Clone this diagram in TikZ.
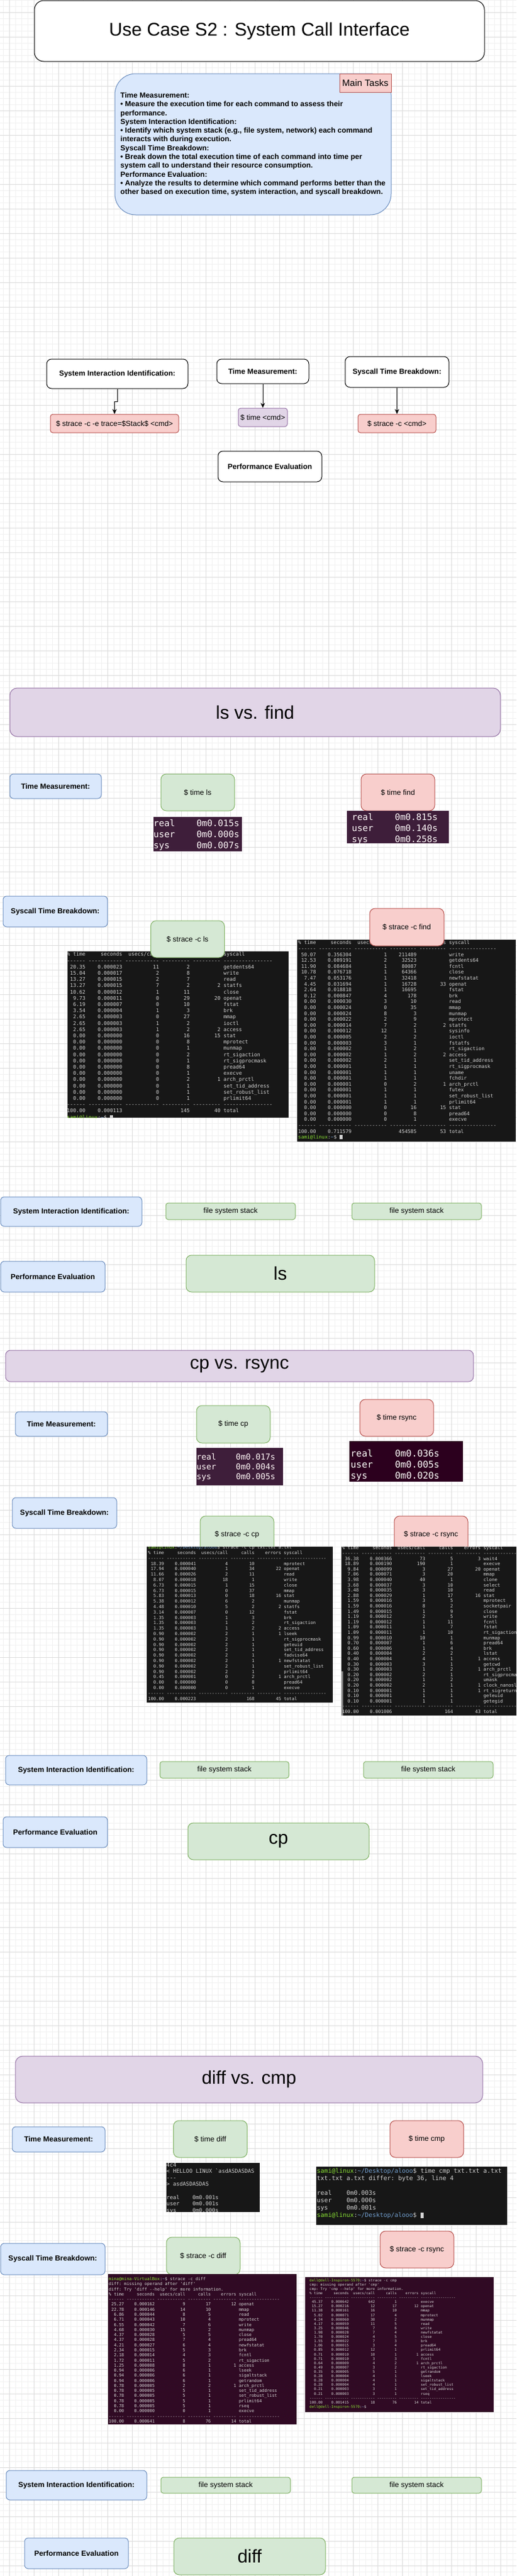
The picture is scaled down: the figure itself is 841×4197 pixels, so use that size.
\documentclass[tikz,border=0pt]{standalone}
\usepackage{fontspec}
\setmainfont{Liberation Sans}
\setmonofont{DejaVu Sans Mono}
\usetikzlibrary{arrows.meta}

\definecolor{dioblue}{HTML}{DAE8FC}
\definecolor{diobluel}{HTML}{6C8EBF}
\definecolor{diogreen}{HTML}{D5E8D4}
\definecolor{diogreenl}{HTML}{82B366}
\definecolor{diored}{HTML}{F8CECC}
\definecolor{dioredl}{HTML}{B85450}
\definecolor{diopurple}{HTML}{E1D5E7}
\definecolor{diopurplel}{HTML}{9673A6}
\definecolor{termblack}{HTML}{171717}
\definecolor{termplum}{HTML}{3E1E3A}
\definecolor{termdeep}{HTML}{2C001E}
\definecolor{termaub}{HTML}{300A24}
\definecolor{termfg}{HTML}{D3D3D3}
\definecolor{promptgreen}{HTML}{8AE234}
\definecolor{promptblue}{HTML}{729FCF}
\definecolor{gridmajor}{HTML}{DCDCDC}
\definecolor{gridminor}{HTML}{F1F1F1}

% one row of strace -c output
\newcommand\sr[6]{\makebox[3.612em][r]{#1}\makebox[7.224em][r]{#2}\makebox[7.224em][r]{#3}\makebox[6.02em][r]{#4}\makebox[6.02em][r]{#5}\hspace{0.602em}#6}
\newcommand\dashrow{\sr{------}{-----------}{-----------}{---------}{---------}{----------------}}
\newcommand\srhead{\sr{\% time}{seconds}{usecs/call}{calls}{errors}{syscall}}
% one row of time output
\newcommand\tr[2]{\makebox[4.816em][l]{#1}#2}
\newcommand\termfont[2]{\ttfamily\fontsize{#1}{#2}\selectfont}
\newcommand\prompt[2]{\textcolor{promptgreen}{#1}:\textcolor{promptblue}{#2}\$}
\newcommand\cursor{\rule[-0.1em]{0.55em}{0.9em}}

\begin{document}
\begin{tikzpicture}[x=1pt,y=-1pt,
    dio/.style={draw, line width=1pt, rounded corners=#1, inner sep=1pt, align=center,
        font=\fontsize{12}{14.4}\selectfont},
    dio/.default=6,
    wh/.style 2 args={minimum width=#1, minimum height=#2},
    plainbox/.style={dio=8, fill=white, font=\bfseries\fontsize{12}{14.4}\selectfont},
    labelbox/.style={dio=6, fill=dioblue, draw=diobluel, font=\bfseries\fontsize{12}{14.4}\selectfont},
    greenbox/.style={dio=#1, fill=diogreen, draw=diogreenl},
    greenbox/.default=9,
    redbox/.style={dio=#1, fill=diored, draw=dioredl},
    redbox/.default=9,
    purplebox/.style={dio=#1, fill=diopurple, draw=diopurplel},
    purplebox/.default=4,
    bigtext/.style={font=\fontsize{30}{36}\selectfont},
    termtext/.style={anchor=north west, inner sep=0, align=left, text=termfg},
    arr/.style={line width=1pt, -{Stealth[length=8pt,width=7pt]}},
    ]
    \useasboundingbox (0,0) rectangle (841,4197);
    \fill[white] (0,0) rectangle (841,4197);
    % page grid
    \foreach \gx in {5,15,...,835} \draw[gridminor, line width=1pt] (\gx,0) -- (\gx,4197);
    \foreach \gy in {0,10,...,4190} \draw[gridminor, line width=1pt] (0,\gy) -- (841,\gy);
    \foreach \gx in {15,55,...,815} \draw[gridmajor, line width=1pt] (\gx,0) -- (\gx,4197);
    \foreach \gy in {20,60,...,4180} \draw[gridmajor, line width=1pt] (0,\gy) -- (841,\gy);

    % overview
    \node[dio=15, fill=white, bigtext, wh={733}{99}] (title) at (422.5,50.5) {Use Case S2 : System Call Interface};
    \node[dio=34, fill=dioblue, draw=diobluel, wh={450}{230}, align=left,
        font=\bfseries\fontsize{12}{14.3}\selectfont] (tasks) at (412,235)
        {Time Measurement:\\
         • Measure the execution time for each command to assess their\\
         performance.\\
         System Interaction Identification:\\
         • Identify which system stack (e.g., file system, network) each command\\
         interacts with during execution.\\
         Syscall Time Breakdown:\\
         • Break down the total execution time of each command into time per\\
         system call to understand their resource consumption.\\
         Performance Evaluation:\\
         • Analyze the results to determine which command performs better than the\\
         other based on execution time, system interaction, and syscall breakdown.};
    \node[dio, sharp corners, fill=diored, draw=dioredl, wh={84}{30}, anchor=north east,
        font=\fontsize{15}{18}\selectfont] (tasktag) at (tasks.north east) {Main Tasks};

    \node[plainbox, wh={230}{48}] (siiTop) at (191,609) {System Interaction Identification:};
    \node[plainbox, wh={150}{40}] (tmTop) at (428,605) {Time Measurement:};
    \node[plainbox, wh={169}{50}] (stbTop) at (646.5,606) {Syscall Time Breakdown:};
    \node[redbox=4, wh={209}{30}] (cmdStack) at (186.5,690) {\$ strace -c -e trace=\$Stack\$ <cmd>};
    \node[purplebox=4, wh={80}{30}] (cmdTime) at (428,680) {\$ time <cmd>};
    \node[redbox=4, wh={127}{30}] (cmdStrace) at (646.5,690) {\$ strace -c <cmd>};
    \node[plainbox, wh={169}{50}] (peTop) at (439.5,760) {Performance Evaluation};
    \draw[arr] (siiTop.south) -- ++(0,21) -| (cmdStack.north);
    \draw[arr] (tmTop) -- (cmdTime);
    \draw[arr] (stbTop) -- (cmdStrace);

    % ls vs. find
    \node[purplebox=12, bigtext, wh={799}{79}] (lsHead) at (415.5,1160.5) {ls vs. find};
    \node[labelbox, wh={149}{40}] (lsTm) at (90.5,1281) {Time Measurement:};
    \node[greenbox, wh={120}{60}] (lsTime) at (322,1291) {\$ time ls};
    \begin{scope}
        \clip (250,1331) rectangle (394,1387);
        \fill[termplum] (250,1331) rectangle (394,1387);
        \node[termtext, text=white!92!pink, font=\termfont{14.5}{18}] (lsTimeOut) at (250,1333.2)
            {\strut\tr{real}{0m0.015s}\\\tr{user}{0m0.000s}\\\tr{sys}{0m0.007s}};
    \end{scope}
    \node[redbox, wh={120}{60}] (findTime) at (648,1291) {\$ time find};
    \begin{scope}
        \clip (565,1321) rectangle (731,1374);
        \fill[termplum] (565,1321) rectangle (731,1374);
        \node[termtext, text=white!92!pink, font=\termfont{14.5}{18}] (findTimeOut) at (573,1323.2)
            {\strut\tr{real}{0m0.815s}\\\tr{user}{0m0.140s}\\\tr{sys}{0m0.258s}};
    \end{scope}
    \node[labelbox, wh={170}{50}] (lsStb) at (90,1485) {Syscall Time Breakdown:};
    \begin{scope}
        \clip (110,1550) rectangle (470,1821);
        \fill[termblack] (110,1550) rectangle (470,1821);
        \node[termtext, font=\termfont{8.3}{10.2}] (lsStraceOut) at (109,1550.6)
            {\strut\srhead\\ \dashrow\\
             \sr{20.35}{0.000023}{11}{2}{}{getdents64}\\
             \sr{15.04}{0.000017}{2}{8}{}{write}\\
             \sr{13.27}{0.000015}{2}{7}{}{read}\\
             \sr{13.27}{0.000015}{7}{2}{2}{statfs}\\
             \sr{10.62}{0.000012}{1}{11}{}{close}\\
             \sr{9.73}{0.000011}{0}{29}{20}{openat}\\
             \sr{6.19}{0.000007}{0}{10}{}{fstat}\\
             \sr{3.54}{0.000004}{1}{3}{}{brk}\\
             \sr{2.65}{0.000003}{0}{27}{}{mmap}\\
             \sr{2.65}{0.000003}{1}{2}{}{ioctl}\\
             \sr{2.65}{0.000003}{1}{2}{2}{access}\\
             \sr{0.00}{0.000000}{0}{16}{15}{stat}\\
             \sr{0.00}{0.000000}{0}{8}{}{mprotect}\\
             \sr{0.00}{0.000000}{0}{1}{}{munmap}\\
             \sr{0.00}{0.000000}{0}{2}{}{rt\_sigaction}\\
             \sr{0.00}{0.000000}{0}{1}{}{rt\_sigprocmask}\\
             \sr{0.00}{0.000000}{0}{8}{}{pread64}\\
             \sr{0.00}{0.000000}{0}{1}{}{execve}\\
             \sr{0.00}{0.000000}{0}{2}{1}{arch\_prctl}\\
             \sr{0.00}{0.000000}{0}{1}{}{set\_tid\_address}\\
             \sr{0.00}{0.000000}{0}{1}{}{set\_robust\_list}\\
             \sr{0.00}{0.000000}{0}{1}{}{prlimit64}\\
             \dashrow\\
             \sr{100.00}{0.000113}{}{145}{40}{total}\\
             \prompt{sami@linux}{\textasciitilde} \cursor};
    \end{scope}
    \node[greenbox, wh={120}{60}] (lsStrace) at (305.5,1530) {\$ strace -c ls};
    \begin{scope}
        \clip (484,1531) rectangle (840,1860);
        \fill[termblack] (484,1531) rectangle (840,1860);
        \node[termtext, font=\termfont{8}{9.6}] (findStraceOut) at (485.5,1531.9)
            {\strut\srhead\\ \dashrow\\
             \sr{50.07}{0.356304}{1}{211489}{}{write}\\
             \sr{12.53}{0.089191}{2}{32523}{}{getdents64}\\
             \sr{11.90}{0.084684}{1}{80087}{}{fcntl}\\
             \sr{10.78}{0.076718}{1}{64366}{}{close}\\
             \sr{7.47}{0.053176}{1}{32418}{}{newfstatat}\\
             \sr{4.45}{0.031694}{1}{16728}{33}{openat}\\
             \sr{2.64}{0.018818}{1}{16695}{}{fstat}\\
             \sr{0.12}{0.000847}{4}{178}{}{brk}\\
             \sr{0.00}{0.000030}{3}{10}{}{read}\\
             \sr{0.00}{0.000024}{0}{35}{}{mmap}\\
             \sr{0.00}{0.000024}{8}{3}{}{munmap}\\
             \sr{0.00}{0.000022}{2}{9}{}{mprotect}\\
             \sr{0.00}{0.000014}{7}{2}{2}{statfs}\\
             \sr{0.00}{0.000012}{12}{1}{}{sysinfo}\\
             \sr{0.00}{0.000005}{2}{2}{}{ioctl}\\
             \sr{0.00}{0.000003}{3}{1}{}{fstatfs}\\
             \sr{0.00}{0.000002}{1}{2}{}{rt\_sigaction}\\
             \sr{0.00}{0.000002}{1}{2}{2}{access}\\
             \sr{0.00}{0.000002}{2}{1}{}{set\_tid\_address}\\
             \sr{0.00}{0.000001}{1}{1}{}{rt\_sigprocmask}\\
             \sr{0.00}{0.000001}{1}{1}{}{uname}\\
             \sr{0.00}{0.000001}{1}{1}{}{fchdir}\\
             \sr{0.00}{0.000001}{0}{2}{1}{arch\_prctl}\\
             \sr{0.00}{0.000001}{1}{1}{}{futex}\\
             \sr{0.00}{0.000001}{1}{1}{}{set\_robust\_list}\\
             \sr{0.00}{0.000001}{1}{1}{}{prlimit64}\\
             \sr{0.00}{0.000000}{0}{16}{15}{stat}\\
             \sr{0.00}{0.000000}{0}{8}{}{pread64}\\
             \sr{0.00}{0.000000}{0}{1}{}{execve}\\
             \dashrow\\
             \sr{100.00}{0.711579}{}{454585}{53}{total}\\
             \prompt{sami@linux}{\textasciitilde} \cursor};
    \end{scope}
    \node[redbox, wh={121}{61}] (findStrace) at (662.5,1510.5) {\$ strace -c find};
    \node[labelbox, wh={230}{48}] (lsSii) at (116,1974) {System Interaction Identification:};
    \node[greenbox=4, wh={211}{27}] (lsStack) at (375.5,1973.5) {file system stack};
    \node[greenbox=4, wh={211}{27}] (findStack) at (678.5,1973.5) {file system stack};
    \node[labelbox, wh={170}{50}] (lsPe) at (86,2080) {Performance Evaluation};
    \node[greenbox, bigtext, wh={307}{60}] (lsBest) at (456.5,2075) {ls};

    % cp vs. rsync
    \node[purplebox=8, bigtext, wh={762}{51}] (cpHead) at (390,2225.5) {cp vs. rsync};
    \node[labelbox, wh={150}{40}] (cpTm) at (100,2320) {Time Measurement:};
    \node[greenbox, wh={120}{61}] (cpTime) at (380,2320.5) {\$ time cp};
    \begin{scope}
        \clip (320,2359) rectangle (461,2420);
        \fill[termplum] (320,2359) rectangle (461,2420);
        \node[termtext, text=white!88!pink, font=\termfont{13.3}{16.2}] (cpTimeOut) at (320,2367)
            {\strut\tr{real}{0m0.017s}\\\tr{user}{0m0.004s}\\\tr{sys}{0m0.005s}};
    \end{scope}
    \node[redbox, wh={120}{60}] (rsyncTime) at (646,2310) {\$ time rsync};
    \begin{scope}
        \clip (569,2348) rectangle (754,2414);
        \fill[termdeep] (569,2348) rectangle (754,2414);
        \node[termtext, text=white!95!pink, font=\termfont{15}{18}] (rsyncTimeOut) at (571,2360.4)
            {\strut\tr{real}{0m0.036s}\\\tr{user}{0m0.005s}\\\tr{sys}{0m0.020s}};
    \end{scope}
    \node[labelbox, wh={170}{50}] (cpStb) at (105,2465) {Syscall Time Breakdown:};
    \node[greenbox, wh={120}{60}] (cpStrace) at (386,2500) {\$ strace -c cp};
    \node[redbox, wh={120}{60}] (rsyncStrace) at (702,2500) {\$ strace -c rsync};
    \begin{scope}
        \clip (239,2520) rectangle (542,2774);
        \fill[termblack] (239,2520) rectangle (542,2774);
        \node[termtext, font=\termfont{7.2}{8.8}] (cpStraceOut) at (241,2517.4)
            {\strut\prompt{sami@linux}{\textasciitilde/Desktop/alooo} strace -c cp txt.txt a.txt\\
             \srhead\\ \dashrow\\
             \sr{18.39}{0.000041}{4}{10}{}{mprotect}\\
             \sr{17.94}{0.000040}{1}{34}{22}{openat}\\
             \sr{11.66}{0.000026}{2}{11}{}{read}\\
             \sr{8.07}{0.000018}{18}{1}{}{write}\\
             \sr{6.73}{0.000015}{1}{15}{}{close}\\
             \sr{6.73}{0.000015}{0}{37}{}{mmap}\\
             \sr{5.83}{0.000013}{0}{18}{16}{stat}\\
             \sr{5.38}{0.000012}{6}{2}{}{munmap}\\
             \sr{4.48}{0.000010}{5}{2}{2}{statfs}\\
             \sr{3.14}{0.000007}{0}{12}{}{fstat}\\
             \sr{1.35}{0.000003}{1}{3}{}{brk}\\
             \sr{1.35}{0.000003}{1}{2}{}{rt\_sigaction}\\
             \sr{1.35}{0.000003}{1}{2}{2}{access}\\
             \sr{0.90}{0.000002}{2}{1}{1}{lseek}\\
             \sr{0.90}{0.000002}{2}{1}{}{rt\_sigprocmask}\\
             \sr{0.90}{0.000002}{2}{1}{}{geteuid}\\
             \sr{0.90}{0.000002}{2}{1}{}{set\_tid\_address}\\
             \sr{0.90}{0.000002}{2}{1}{}{fadvise64}\\
             \sr{0.90}{0.000002}{2}{1}{1}{newfstatat}\\
             \sr{0.90}{0.000002}{2}{1}{}{set\_robust\_list}\\
             \sr{0.90}{0.000002}{2}{1}{}{prlimit64}\\
             \sr{0.45}{0.000001}{0}{2}{1}{arch\_prctl}\\
             \sr{0.00}{0.000000}{0}{8}{}{pread64}\\
             \sr{0.00}{0.000000}{0}{1}{}{execve}\\
             \dashrow\\
             \sr{100.00}{0.000223}{}{168}{45}{total}};
    \end{scope}
    \begin{scope}
        \clip (556,2520) rectangle (841,2795);
        \fill[termblack] (556,2520) rectangle (841,2795);
        \fill[gray] (555,2723) rectangle (559,2795);
        \node[termtext, font=\termfont{7.5}{8.6}] (rsyncStraceOut) at (557,2518.6)
            {\strut\srhead\\ \dashrow\\
             \sr{36.38}{0.000366}{73}{5}{3}{wait4}\\
             \sr{18.89}{0.000190}{190}{1}{}{execve}\\
             \sr{9.84}{0.000099}{3}{27}{20}{openat}\\
             \sr{7.06}{0.000071}{3}{20}{}{mmap}\\
             \sr{3.98}{0.000040}{40}{1}{}{clone}\\
             \sr{3.68}{0.000037}{3}{10}{}{select}\\
             \sr{3.48}{0.000035}{3}{10}{}{read}\\
             \sr{2.88}{0.000029}{1}{17}{16}{stat}\\
             \sr{1.59}{0.000016}{3}{5}{}{mprotect}\\
             \sr{1.59}{0.000016}{8}{2}{}{socketpair}\\
             \sr{1.49}{0.000015}{1}{9}{}{close}\\
             \sr{1.19}{0.000012}{2}{5}{}{write}\\
             \sr{1.19}{0.000012}{1}{11}{}{fcntl}\\
             \sr{1.09}{0.000011}{1}{7}{}{fstat}\\
             \sr{1.09}{0.000011}{1}{10}{}{rt\_sigaction}\\
             \sr{0.99}{0.000010}{10}{1}{}{munmap}\\
             \sr{0.70}{0.000007}{1}{6}{}{pread64}\\
             \sr{0.60}{0.000006}{1}{4}{}{brk}\\
             \sr{0.40}{0.000004}{2}{2}{}{lstat}\\
             \sr{0.40}{0.000004}{4}{1}{1}{access}\\
             \sr{0.30}{0.000003}{3}{1}{}{getcwd}\\
             \sr{0.30}{0.000003}{1}{2}{1}{arch\_prctl}\\
             \sr{0.20}{0.000002}{2}{1}{}{rt\_sigprocmask}\\
             \sr{0.20}{0.000002}{1}{2}{}{umask}\\
             \sr{0.20}{0.000002}{2}{1}{1}{clock\_nanosleep}\\
             \sr{0.10}{0.000001}{1}{1}{1}{rt\_sigreturn}\\
             \sr{0.10}{0.000001}{1}{1}{}{geteuid}\\
             \sr{0.10}{0.000001}{1}{1}{}{getegid}\\
             \dashrow\\
             \sr{100.00}{0.001006}{}{164}{43}{total}};
    \end{scope}
    \node[labelbox, wh={230}{48}] (cpSii) at (124,2884) {System Interaction Identification:};
    \node[greenbox=4, wh={210}{27}] (cpStack) at (365.5,2883.5) {file system stack};
    \node[greenbox=4, wh={211}{27}] (rsyncStack) at (697.5,2883.5) {file system stack};
    \node[labelbox, wh={170}{50}] (cpPe) at (90,2985) {Performance Evaluation};
    \node[greenbox, bigtext, wh={295}{60}] (cpBest) at (453.5,3000) {cp};

    % diff vs. cmp
    \node[purplebox=12, bigtext, wh={761}{76}] (diffHead) at (405.5,3388) {diff vs. cmp};
    \node[labelbox, wh={151}{41}] (diffTm) at (95.5,3485.5) {Time Measurement:};
    \node[greenbox, wh={120}{60}] (diffTime) at (342.5,3485) {\$ time diff};
    \begin{scope}
        \clip (271,3524) rectangle (423,3604);
        \fill[termblack] (271,3524) rectangle (423,3604);
        \node[termtext, font=\termfont{8.8}{10.6}] (diffTimeOut) at (271,3522.5)
            {\strut 4c4\\< HELLOO LINUX `asdASDASDAS\\-{}-{}-\\> asdASDASDAS\\ \mbox{}\\
             \tr{real}{0m0.001s}\\\tr{user}{0m0.001s}\\\tr{sys}{0m0.000s}};
    \end{scope}
    \node[redbox, wh={120}{60}] (cmpTime) at (695,3485) {\$ time cmp};
    \begin{scope}
        \clip (515,3530) rectangle (826,3625);
        \fill[termblack] (515,3530) rectangle (826,3625);
        \node[termtext, font=\termfont{10}{12}] (cmpTimeOut) at (516,3531.9)
            {\strut\prompt{sami@linux}{\textasciitilde/Desktop/alooo} time cmp txt.txt a.txt\\
             txt.txt a.txt differ: byte 36, line 4\\ \mbox{}\\
             \tr{real}{0m0.003s}\\\tr{user}{0m0.000s}\\\tr{sys}{0m0.001s}\\
             \prompt{sami@linux}{\textasciitilde/Desktop/alooo} \cursor};
    \end{scope}
    \node[labelbox, wh={170}{51}] (diffStb) at (86,3680.5) {Syscall Time Breakdown:};
    \node[greenbox, wh={120}{61}] (diffStrace) at (331,3675.5) {\$ strace -c diff};
    \node[redbox, wh={120}{60}] (cmpStrace) at (679,3665) {\$ strace -c rsync};
    \begin{scope}
        \clip (176,3705) rectangle (483,3950);
        \fill[termaub] (176,3705) rectangle (483,3950);
        \node[termtext, font=\termfont{6.9}{8.28}] (diffStraceOut) at (177,3709.5)
            {\strut\prompt{mina@mina-VirtualBox}{\textasciitilde} strace -c diff\\
             diff: missing operand after 'diff'\\
             diff: Try 'diff -{}-help' for more information.\\
             \srhead\\ \dashrow\\
             \sr{25.27}{0.000162}{9}{17}{12}{openat}\\
             \sr{22.78}{0.000146}{14}{10}{}{mmap}\\
             \sr{6.86}{0.000044}{8}{5}{}{read}\\
             \sr{6.71}{0.000043}{10}{4}{}{mprotect}\\
             \sr{6.55}{0.000042}{7}{6}{}{write}\\
             \sr{4.68}{0.000030}{15}{2}{}{munmap}\\
             \sr{4.37}{0.000028}{5}{5}{}{close}\\
             \sr{4.37}{0.000028}{7}{4}{}{pread64}\\
             \sr{4.21}{0.000027}{6}{4}{}{newfstatat}\\
             \sr{2.34}{0.000015}{5}{3}{}{brk}\\
             \sr{2.18}{0.000014}{4}{3}{}{fcntl}\\
             \sr{1.72}{0.000011}{5}{2}{}{rt\_sigaction}\\
             \sr{1.25}{0.000008}{8}{1}{1}{access}\\
             \sr{0.94}{0.000006}{6}{1}{}{lseek}\\
             \sr{0.94}{0.000006}{6}{1}{}{sigaltstack}\\
             \sr{0.94}{0.000006}{6}{1}{}{getrandom}\\
             \sr{0.78}{0.000005}{2}{2}{1}{arch\_prctl}\\
             \sr{0.78}{0.000005}{5}{1}{}{set\_tid\_address}\\
             \sr{0.78}{0.000005}{5}{1}{}{set\_robust\_list}\\
             \sr{0.78}{0.000005}{5}{1}{}{prlimit64}\\
             \sr{0.78}{0.000005}{5}{1}{}{rseq}\\
             \sr{0.00}{0.000000}{0}{1}{}{execve}\\
             \dashrow\\
             \sr{100.00}{0.000641}{8}{76}{14}{total}};
    \end{scope}
    \begin{scope}
        \clip (497,3710) rectangle (804,3930);
        \fill[termaub] (497,3710) rectangle (804,3930);
        \node[termtext, font=\termfont{5.9}{7.11}] (cmpStraceOut) at (504,3712)
            {\strut\prompt{dell@dell-Inspiron-5570}{\textasciitilde} strace -c cmp\\
             cmp: missing operand after 'cmp'\\
             cmp: Try 'cmp -{}-help' for more information.\\
             \srhead\\ \dashrow\\
             \sr{45.37}{0.000642}{642}{1}{}{execve}\\
             \sr{15.27}{0.000216}{12}{17}{12}{openat}\\
             \sr{11.38}{0.000161}{16}{10}{}{mmap}\\
             \sr{5.02}{0.000071}{17}{4}{}{mprotect}\\
             \sr{4.24}{0.000060}{30}{2}{}{munmap}\\
             \sr{4.17}{0.000059}{11}{5}{}{read}\\
             \sr{3.25}{0.000046}{7}{6}{}{write}\\
             \sr{1.98}{0.000028}{7}{4}{}{newfstatat}\\
             \sr{1.70}{0.000024}{4}{5}{}{close}\\
             \sr{1.55}{0.000022}{7}{3}{}{brk}\\
             \sr{1.06}{0.000015}{3}{4}{}{pread64}\\
             \sr{0.85}{0.000012}{12}{1}{}{prlimit64}\\
             \sr{0.71}{0.000010}{10}{1}{1}{access}\\
             \sr{0.71}{0.000010}{3}{3}{}{fcntl}\\
             \sr{0.64}{0.000009}{4}{2}{1}{arch\_prctl}\\
             \sr{0.49}{0.000007}{3}{2}{}{rt\_sigaction}\\
             \sr{0.35}{0.000005}{5}{1}{}{getrandom}\\
             \sr{0.28}{0.000004}{4}{1}{}{lseek}\\
             \sr{0.28}{0.000004}{4}{1}{}{sigaltstack}\\
             \sr{0.28}{0.000004}{4}{1}{}{set\_robust\_list}\\
             \sr{0.21}{0.000003}{3}{1}{}{set\_tid\_address}\\
             \sr{0.21}{0.000003}{3}{1}{}{rseq}\\
             \dashrow\\
             \sr{100.00}{0.001415}{18}{76}{14}{total}\\
             \prompt{dell@dell-Inspiron-5570}{\textasciitilde}};
    \end{scope}
    \node[labelbox, wh={229}{48}] (diffSii) at (124.5,4049) {System Interaction Identification:};
    \node[greenbox=4, wh={211}{26}] (diffStack) at (367.5,4049) {file system stack};
    \node[greenbox=4, wh={211}{26}] (cmpStack) at (678.5,4049) {file system stack};
    \node[labelbox, wh={169}{50}] (diffPe) at (124.5,4160) {Performance Evaluation};
    \node[greenbox, bigtext, wh={247}{60}] (diffBest) at (406.5,4165) {diff};
\end{tikzpicture}
\end{document}
